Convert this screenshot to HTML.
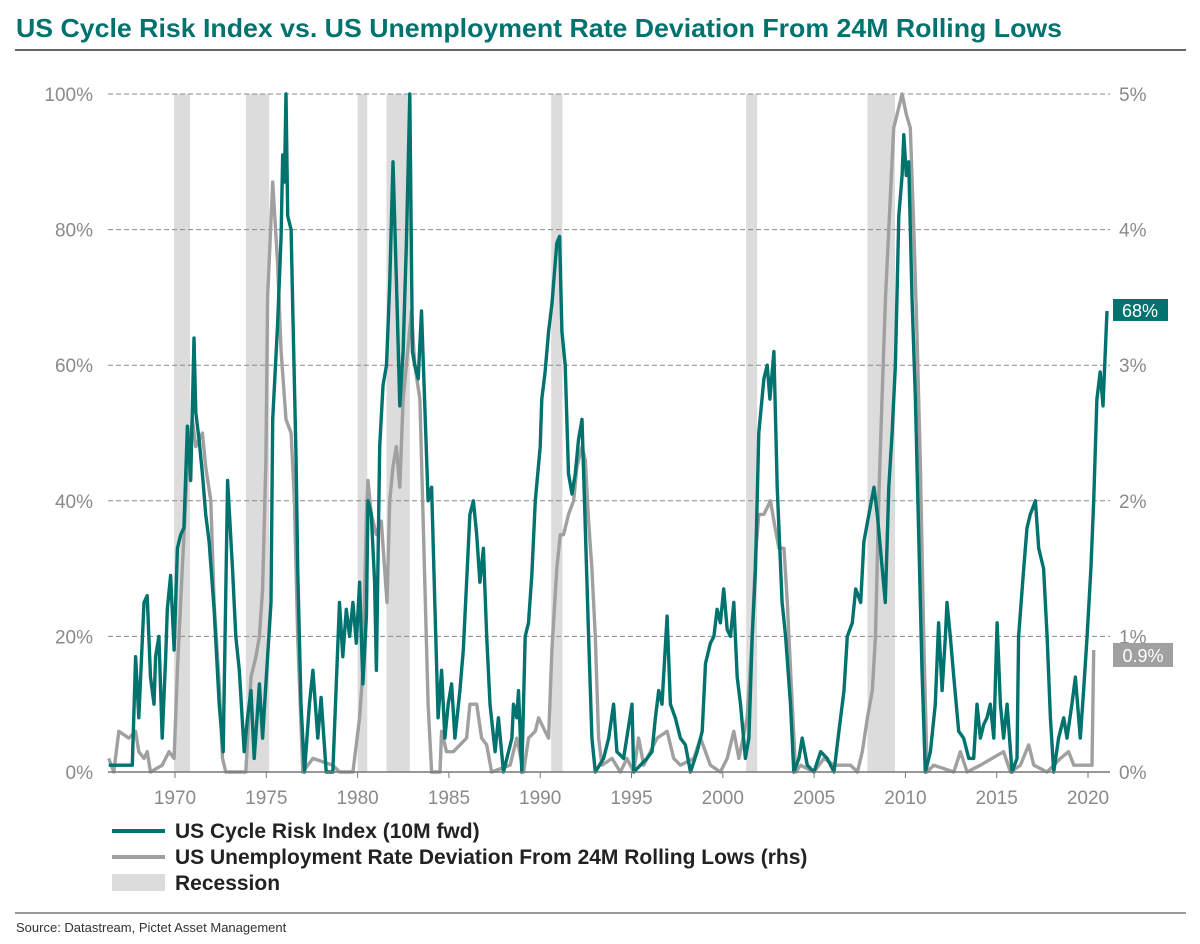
<!DOCTYPE html>
<html><head><meta charset="utf-8"><style>
html,body{margin:0;padding:0;background:#fff;}
svg{display:block;font-family:"Liberation Sans Narrow","Liberation Sans",sans-serif;}
</style></head><body>
<svg id="chart" width="1200" height="944" viewBox="0 0 1200 944" xmlns="http://www.w3.org/2000/svg">
<text x="16" y="37" font-size="26" font-weight="bold" fill="#00736f" textLength="1046" lengthAdjust="spacingAndGlyphs">US Cycle Risk Index vs. US Unemployment Rate Deviation From 24M Rolling Lows</text>
<line x1="15" y1="50" x2="1186" y2="50" stroke="#333" stroke-width="1.5"/>
<g id="recessions"></g>
<g id="grid"></g>
<g id="series"></g>
<g id="axes"></g>
<g>
<line x1="112" y1="831" x2="165" y2="831" stroke="#00736f" stroke-width="4"/>
<text x="175" y="838" font-size="21" font-weight="bold" fill="#222">US Cycle Risk Index (10M fwd)</text>
<line x1="112" y1="857" x2="165" y2="857" stroke="#a0a0a0" stroke-width="4"/>
<text x="175" y="864" font-size="21" font-weight="bold" fill="#222">US Unemployment Rate Deviation From 24M Rolling Lows (rhs)</text>
<rect x="112" y="874" width="53" height="17" fill="#dcdcdc"/>
<text x="175" y="890" font-size="21" font-weight="bold" fill="#222">Recession</text>
</g>
<line x1="15" y1="913" x2="1186" y2="913" stroke="#333" stroke-width="1"/>
<text x="16" y="932" font-size="13" fill="#333" font-family="Liberation Sans, sans-serif">Source: Datastream, Pictet Asset Management</text>
</svg>
<script>
const recStart=[1969.95,1973.88,1980.0,1981.58,1990.6,2001.28,2007.92];
const recEnd=[1970.82,1975.16,1980.53,1982.86,1991.22,2001.88,2009.43];
const leftTicks=["0%","20%","40%","60%","80%","100%"];
const rightTicks=["0%","1%","2%","3%","4%","5%"];
const yearTicks=[1970,1975,1980,1985,1990,1995,2000,2005,2010,2015,2020];
const riskYears=[1966.37,1967.66,1967.84,1968.02,1968.30,1968.48,1968.66,1968.85,1968.94,1969.12,1969.30,1969.49,1969.58,1969.76,1969.95,1970.13,1970.31,1970.49,1970.68,1970.86,1971.04,1971.14,1971.32,1971.50,1971.68,1971.87,1972.14,1972.42,1972.64,1972.88,1973.15,1973.33,1973.52,1973.79,1973.97,1974.16,1974.34,1974.62,1974.80,1974.98,1975.26,1975.35,1975.62,1975.81,1975.90,1975.99,1976.08,1976.17,1976.36,1976.45,1976.63,1976.72,1976.90,1977.09,1977.36,1977.55,1977.82,1978.00,1978.28,1978.64,1979.01,1979.19,1979.38,1979.56,1979.74,1979.93,1980.11,1980.29,1980.48,1980.57,1980.75,1980.93,1981.03,1981.21,1981.39,1981.58,1981.76,1981.94,1982.12,1982.31,1982.49,1982.67,1982.86,1983.00,1983.13,1983.32,1983.50,1983.68,1983.86,1984.05,1984.23,1984.41,1984.60,1984.78,1984.96,1985.15,1985.33,1985.60,1985.79,1985.97,1986.15,1986.34,1986.52,1986.70,1986.89,1987.07,1987.25,1987.53,1987.71,1987.99,1988.45,1988.54,1988.72,1988.81,1988.99,1989.18,1989.36,1989.54,1989.73,1990.00,1990.09,1990.27,1990.46,1990.64,1990.91,1991.06,1991.19,1991.37,1991.55,1991.74,1991.92,1992.10,1992.29,1992.47,1992.65,1992.83,1993.02,1993.47,1993.75,1994.02,1994.20,1994.57,1995.03,1995.12,1995.85,1996.12,1996.31,1996.49,1996.67,1996.95,1997.13,1997.40,1997.68,1997.95,1998.23,1998.59,1998.87,1999.05,1999.32,1999.51,1999.69,1999.87,2000.05,2000.24,2000.42,2000.60,2000.79,2000.97,2001.24,2001.43,2001.61,2001.79,2001.97,2002.25,2002.43,2002.58,2002.80,2002.98,2003.25,2003.44,2003.71,2003.89,2004.17,2004.35,2004.63,2004.99,2005.36,2005.72,2006.09,2006.36,2006.64,2006.82,2007.09,2007.28,2007.55,2007.73,2008.00,2008.28,2008.46,2008.90,2009.09,2009.27,2009.45,2009.64,2009.82,2009.91,2010.05,2010.18,2010.36,2010.55,2010.73,2010.91,2011.09,2011.37,2011.64,2011.82,2012.01,2012.19,2012.28,2012.46,2012.65,2012.92,2013.19,2013.47,2013.74,2013.92,2014.11,2014.29,2014.47,2014.65,2014.84,2015.02,2015.20,2015.38,2015.57,2015.84,2016.11,2016.20,2016.48,2016.66,2016.84,2017.12,2017.30,2017.57,2017.76,2017.94,2018.12,2018.39,2018.67,2018.85,2019.12,2019.31,2019.58,2019.76,2019.95,2020.16,2020.31,2020.49,2020.67,2020.82,2021.04];
const riskValues=[1,1,17,8,25,26,14,10,17,20,5,17,24,29,18,33,35,36,51,43,64,53,49,44,38,34,24,10,3,43,30,20,15,3,8,12,2,13,5,13,25,52,66,79,91,87,100,82,80,68,46,30,10,0,10,15,5,11,0,0,25,17,24,20,25,19,28,13,23,40,38,28,15,48,57,60,72,90,73,54,62,78,100,62,60,58,68,54,40,42,25,8,15,5,10,13,5,12,18,28,38,40,35,28,33,20,10,3,8,0,5,10,8,12,0,20,22,29,40,48,55,59,65,69,78,79,65,60,44,41,44,49,52,36,20,5,0,2,5,10,3,2,10,0,2,3,8,12,10,23,10,8,5,4,0,3,6,16,19,20,24,22,27,21,20,25,14,10,2,5,20,30,50,58,60,55,62,42,25,20,10,0,2,5,1,0,3,2,0,6,12,20,22,27,25,34,38,42,38,25,42,50,60,82,88,94,88,90,70,55,35,15,0,3,10,22,12,20,25,20,14,6,5,2,2,10,5,7,8,10,5,22,10,5,10,0,2,20,30,36,38,40,33,30,20,8,0,5,8,5,10,14,5,12,20,30,40,55,59,54,68];
const unempYears=[1966.37,1966.65,1966.92,1967.47,1967.84,1968.02,1968.30,1968.48,1968.66,1969.30,1969.67,1969.95,1970.13,1970.40,1970.68,1970.95,1971.14,1971.50,1971.68,1971.96,1972.14,1972.42,1972.60,1972.78,1973.88,1974.16,1974.43,1974.62,1974.80,1974.98,1975.07,1975.35,1975.62,1975.81,1976.08,1976.36,1976.54,1976.72,1977.00,1977.55,1978.64,1979.01,1979.74,1980.11,1980.29,1980.48,1980.57,1980.75,1981.03,1981.30,1981.48,1981.61,1981.76,1981.94,1982.12,1982.31,1982.49,1982.67,1982.95,1983.13,1983.41,1983.68,1983.86,1984.05,1984.51,1984.60,1984.87,1985.24,1985.60,1985.97,1986.15,1986.52,1986.79,1987.07,1987.34,1988.35,1988.72,1989.09,1989.36,1989.73,1989.91,1990.27,1990.46,1990.64,1990.91,1991.10,1991.28,1991.55,1991.83,1992.01,1992.29,1992.47,1992.65,1992.83,1993.02,1993.20,1993.38,1993.93,1994.39,1994.75,1995.12,1995.39,1995.67,1996.03,1996.40,1996.95,1997.31,1997.68,1998.41,1998.78,1999.32,1999.87,2000.24,2000.60,2000.88,2001.33,2001.61,2001.79,2001.97,2002.25,2002.61,2002.80,2003.07,2003.35,2003.53,2003.80,2003.99,2004.26,2004.99,2005.54,2006.09,2007.00,2007.37,2007.64,2007.92,2008.19,2008.36,2008.54,2008.72,2008.91,2009.18,2009.36,2009.64,2009.82,2010.05,2010.27,2010.46,2010.64,2010.82,2011.00,2011.19,2011.55,2012.65,2013.01,2013.38,2014.11,2015.38,2015.75,2016.30,2016.75,2017.03,2017.76,2018.49,2018.94,2019.22,2020.22,2020.31];
const unempValues=[0.10,0,0.30,0.25,0.30,0.15,0.10,0.15,0,0.05,0.15,0.10,0.75,1.50,2.25,2.60,2.40,2.50,2.25,2.00,1.25,0.65,0.10,0,0,0.70,0.85,1.00,1.35,2.30,3.50,4.35,3.75,3.10,2.60,2.50,2.00,1.00,0,0.10,0.05,0,0,0.40,0.75,1.90,2.15,1.90,1.75,1.85,1.50,1.25,2.00,2.25,2.40,2.10,2.75,3.00,3.40,3.00,2.75,1.40,0.50,0,0,0.30,0.15,0.15,0.20,0.25,0.50,0.50,0.25,0.20,0,0.05,0.25,0,0.25,0.30,0.40,0.30,0.25,0.90,1.50,1.75,1.75,1.90,2.00,2.25,2.40,2.30,1.85,1.50,1.00,0.25,0.05,0.10,0,0.10,0,0.25,0.05,0.15,0.25,0.30,0.10,0.05,0.10,0.25,0.05,0,0.10,0.30,0.10,0.40,1.00,1.60,1.90,1.90,2.00,1.85,1.65,1.65,1.25,0.50,0,0.05,0,0.10,0.05,0.05,0,0.15,0.40,0.60,1.00,2.00,2.75,3.50,4.25,4.75,4.90,5.00,4.85,4.75,4.00,3.20,2.25,1.00,0,0.05,0,0.15,0,0.05,0.15,0,0.05,0.20,0.05,0,0.10,0.15,0.05,0.05,0.90];

const X0=108,X1=1110,YTOP=94,YBOT=772;
const xScale=y=>175+(y-1970)*(1088-175)/50;
const yLeft=v=>YBOT-v*(YBOT-YTOP)/100;
const yRight=v=>YBOT-v*(YBOT-YTOP)/5;
const NS='http://www.w3.org/2000/svg';
function mk(tag,attrs,parent){const e=document.createElementNS(NS,tag);for(const k in attrs)e.setAttribute(k,attrs[k]);parent.appendChild(e);return e;}

const rg=document.getElementById('recessions');
recStart.forEach((s,i)=>{
  const r=mk('rect',{x:xScale(s),y:YTOP,width:xScale(recEnd[i])-xScale(s),height:YBOT-YTOP,fill:'#dcdcdc'},rg);
  
  
});
const gg=document.getElementById('grid');
const ag=document.getElementById('axes');
leftTicks.forEach((t,i)=>{
  const y=yLeft(i*20);
  if(i>0){const l=mk('line',{x1:X0,x2:X1,y1:y,y2:y,stroke:'#8a8a8a','stroke-width':1,'stroke-dasharray':'5,3'},gg);
  
  }
  const tl=mk('text',{x:93,y:y+7,'text-anchor':'end','font-size':19,fill:'#8a8a8a','font-family':'Liberation Sans, sans-serif'},ag);
  tl.textContent=t;
  
  
  const tr=mk('text',{x:1119,y:y+7,'font-size':19,fill:'#8a8a8a','font-family':'Liberation Sans, sans-serif'},ag);
  tr.textContent=rightTicks[i];
  
  
});
const ax=mk('line',{x1:X0,x2:X1,y1:YBOT,y2:YBOT,stroke:'#777','stroke-width':1.5},ag);


yearTicks.forEach(yr=>{
  const x=xScale(yr);
  const tk=mk('line',{x1:x,x2:x,y1:YBOT,y2:YBOT+6,stroke:'#777','stroke-width':1},ag);
  
  
  const t=mk('text',{x:x,y:YBOT+32,'text-anchor':'middle','font-size':19,fill:'#8a8a8a','font-family':'Liberation Sans, sans-serif'},ag);
  t.textContent=yr;
  
  
});
const sg=document.getElementById('series');
const pu=mk('polyline',{points:unempYears.map((y,i)=>xScale(y).toFixed(1)+','+yRight(unempValues[i]).toFixed(1)).join(' '),fill:'none',stroke:'#a0a0a0','stroke-width':3.4,'stroke-linejoin':'round'},sg);


const pr=mk('polyline',{points:riskYears.map((y,i)=>xScale(y).toFixed(1)+','+yLeft(riskValues[i]).toFixed(1)).join(' '),fill:'none',stroke:'#00736f','stroke-width':3.4,'stroke-linejoin':'round'},sg);


const lastR=riskValues[riskValues.length-1];
const lastU=unempValues[unempValues.length-1];
const yr=yLeft(lastR);
const br=mk('rect',{x:1113,y:yr-12,width:55,height:22,fill:'#00736f'},ag);


const tr=mk('text',{x:1140,y:yr+6,'text-anchor':'middle','font-size':18,fill:'#fff','font-family':'Liberation Sans, sans-serif'},ag);
tr.textContent=lastR+'%';


const yu=yRight(lastU);
const bu=mk('rect',{x:1113,y:yu-7,width:60,height:24,fill:'#a0a0a0'},ag);


const tu=mk('text',{x:1143,y:yu+12,'text-anchor':'middle','font-size':18,fill:'#fff','font-family':'Liberation Sans, sans-serif'},ag);
tu.textContent=lastU+'%';


</script>
</body></html>
